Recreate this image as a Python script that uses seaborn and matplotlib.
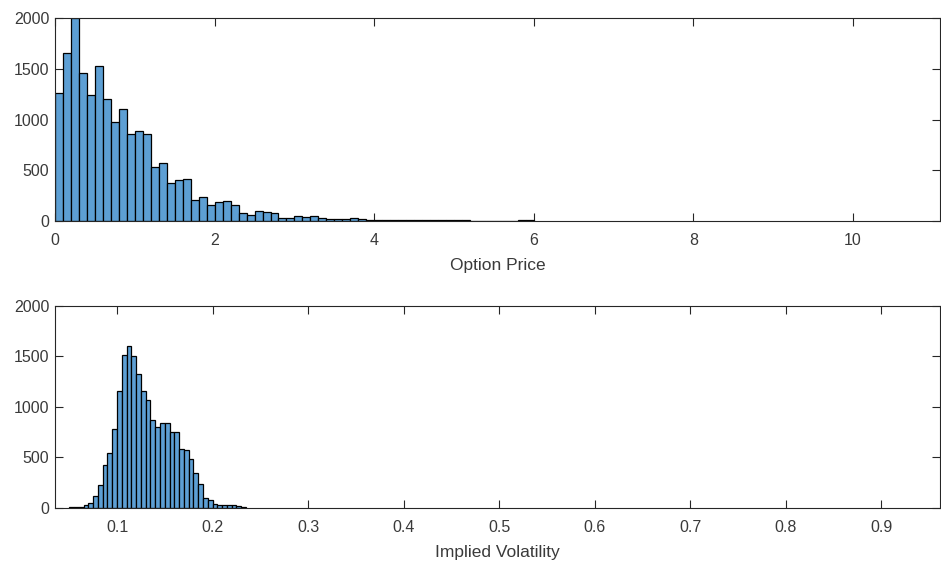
import numpy as np
import pandas as pd
import matplotlib
matplotlib.use("Agg")
import matplotlib.pyplot as plt
import seaborn as sns

# ---------------- data ----------------
price_bin_start = 0.0
price_bin_width = 0.1
price_counts = [1259, 1660, 2000, 1456, 1242, 1529, 1203, 972, 1100, 853,
                886, 857, 527, 573, 372, 402, 412, 204, 231, 158,
                185, 198, 158, 73, 56, 99, 86, 73, 30, 27,
                49, 33, 46, 30, 18, 15, 15, 28, 12, 5,
                10, 10, 8, 5, 10, 10, 3, 9, 2, 10,
                10, 3, 1, 0, 1, 0, 0, 1, 2, 10]

vol_bin_start = 0.05
vol_bin_width = 0.005
vol_counts = [4, 5, 7, 28, 50, 112, 227, 427, 540, 785,
              1159, 1513, 1602, 1500, 1324, 1159, 1066, 874, 801, 841,
              841, 752, 752, 586, 570, 480, 344, 238, 99, 80,
              40, 23, 23, 23, 23, 13, 7]

price_ticks = [0, 2, 4, 6, 8, 10]
vol_ticks = [0.1, 0.2, 0.3, 0.4, 0.5, 0.6, 0.7, 0.8, 0.9]
count_ticks = [0, 500, 1000, 1500, 2000]
price_label = "Option Price"
vol_label = "Implied Volatility"

# ---------------- style ----------------
sns.set_style("ticks")
plt.rcParams['font.family'] = ['Liberation Sans', 'DejaVu Sans']
FACE = '#5d9fd4'
AXC = '#262626'
TXT = '#3a3a3a'

fig = plt.figure(figsize=(9.41, 5.62), dpi=100)
ax1 = fig.add_axes([0.0585, 0.6073, 0.9405, 0.3601])
ax2 = fig.add_axes([0.0585, 0.0966, 0.9405, 0.3589])


def draw(ax, start, width, counts):
    n = len(counts)
    edges = [float(start + width * i) for i in range(n + 1)]
    centers = [(edges[i] + edges[i + 1]) / 2 for i in range(n)]
    df = pd.DataFrame({"x": centers, "w": counts})
    sns.histplot(data=df, x="x", weights="w", bins=edges, ax=ax,
                 color=FACE, edgecolor='black', linewidth=0.9, alpha=1.0)


draw(ax1, price_bin_start, price_bin_width, price_counts)
draw(ax2, vol_bin_start, vol_bin_width, vol_counts)

ax1.set_xlim(0, 11.09)
ax2.set_xlim(0.0351, 0.9618)
ax1.set_xticks(price_ticks)
ax1.set_xticklabels([str(t) for t in price_ticks])
ax2.set_xticks(vol_ticks)
ax2.set_xticklabels([f"{t:.1f}" for t in vol_ticks])

for ax, lab in ((ax1, price_label), (ax2, vol_label)):
    ax.set_ylim(0, 2000)
    ax.set_yticks(count_ticks)
    ax.set_yticklabels([str(t) for t in count_ticks])
    ax.set_ylabel("")
    ax.set_xlabel(lab, fontsize=12.5, color=TXT, labelpad=7)
    for s in ax.spines.values():
        s.set_visible(True)
        s.set_color(AXC)
        s.set_linewidth(0.8)
    ax.tick_params(direction='in', length=6, width=0.8, color=AXC,
                   top=True, right=True, labelsize=11.5, labelcolor=TXT)
    ax.tick_params(axis='x', pad=9)
    ax.tick_params(axis='y', pad=4)
    ax.set_facecolor('white')

fig.savefig("out.png", dpi=100, facecolor='white')
